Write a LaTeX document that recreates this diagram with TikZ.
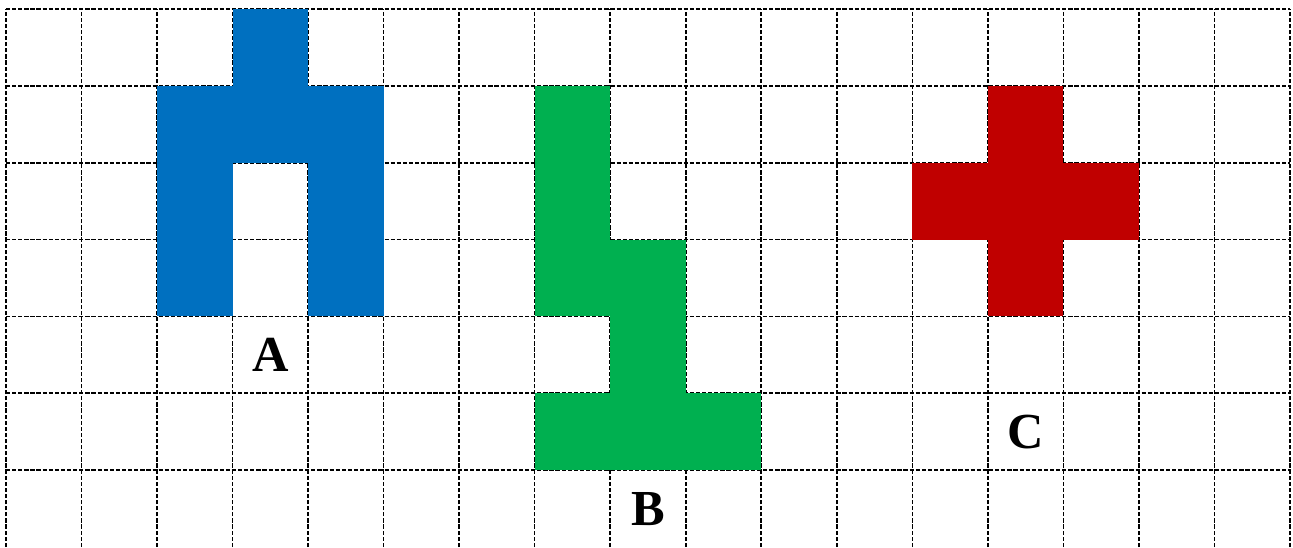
\documentclass[tikz,border=0pt]{standalone}
\usepackage{fontspec}
\setmainfont{Liberation Serif}
\definecolor{shapeblue}{HTML}{0070C0}
\definecolor{shapegreen}{HTML}{00B050}
\definecolor{shapered}{HTML}{C00000}
\begin{document}
\begin{tikzpicture}[x=1cm,y=1.0176cm]
				\useasboundingbox (-0.079,0) rectangle (17.04,7.117);
				
				\tikzset{gridline/.style={dashed,line width=0.6pt,dash pattern=on 1.6pt off 0.7pt},
					lbl/.style={font=\fontsize{19}{23}\selectfont\bfseries}}
				
				% grid
				\draw [gridline] (0,0) -- (0,7);
				\draw [gridline] (1,0) -- (1,7);
				\draw [gridline] (2,0) -- (2,7);
				\draw [gridline] (3,0) -- (3,7);
				\draw [gridline] (4,0) -- (4,7);
				\draw [gridline] (5,0) -- (5,7);
				\draw [gridline] (6,0) -- (6,7);
				\draw [gridline] (7,0) -- (7,7);
				\draw [gridline] (8,0) -- (8,7);
				\draw [gridline] (9,0) -- (9,7);
				\draw [gridline] (10,0) -- (10,7);
				\draw [gridline] (11,0) -- (11,7);
				\draw [gridline] (12,0) -- (12,7);
				\draw [gridline] (13,0) -- (13,7);
				\draw [gridline] (14,0) -- (14,7);
				\draw [gridline] (15,0) -- (15,7);
				\draw [gridline] (16,0) -- (16,7);
				\draw [gridline] (17,0) -- (17,7);
				
				\draw [gridline] (0,1) -- (17,1);
				\draw [gridline] (0,2) -- (17,2);
				\draw [gridline] (0,3) -- (17,3);
				\draw [gridline] (0,4) -- (17,4);
				\draw [gridline] (0,5) -- (17,5);
				\draw [gridline] (0,6) -- (17,6);
				\draw [gridline] (0,7) -- (17,7);
				
				% shape A
				\fill [shapeblue] (3,6) rectangle (4,7);
				\fill [shapeblue] (2,5) rectangle (3,6);
				\fill [shapeblue] (3,5) rectangle (4,6);
				\fill [shapeblue] (4,5) rectangle (5,6);
				\fill [shapeblue] (2,4) rectangle (3,5);
				\fill [shapeblue] (4,4) rectangle (5,5);
				\fill [shapeblue] (2,3) rectangle (3,4);
				\fill [shapeblue] (4,3) rectangle (5,4);
				
				% shape B
				\fill [shapegreen] (7,5) rectangle (8,6);
				\fill [shapegreen] (7,4) rectangle (8,5);
				\fill [shapegreen] (7,3) rectangle (8,4);
				\fill [shapegreen] (8,3) rectangle (9,4);
				\fill [shapegreen] (8,2) rectangle (9,3);
				\fill [shapegreen] (7,1) rectangle (8,2);
				\fill [shapegreen] (8,1) rectangle (9,2);
				\fill [shapegreen] (9,1) rectangle (10,2);
				
				% shape C
				\fill [shapered] (13,5) rectangle (14,6);
				\fill [shapered] (12,4) rectangle (13,5);
				\fill [shapered] (13,4) rectangle (14,5);
				\fill [shapered] (14,4) rectangle (15,5);
				\fill [shapered] (13,3) rectangle (14,4);
				
				\node [lbl] (la) at (3.5,2.5) {A};
				\node [lbl] (lb) at (8.5,0.5) {B};
				\node [lbl] (lc) at (13.5,1.5) {C};
\end{tikzpicture}
\end{document}
